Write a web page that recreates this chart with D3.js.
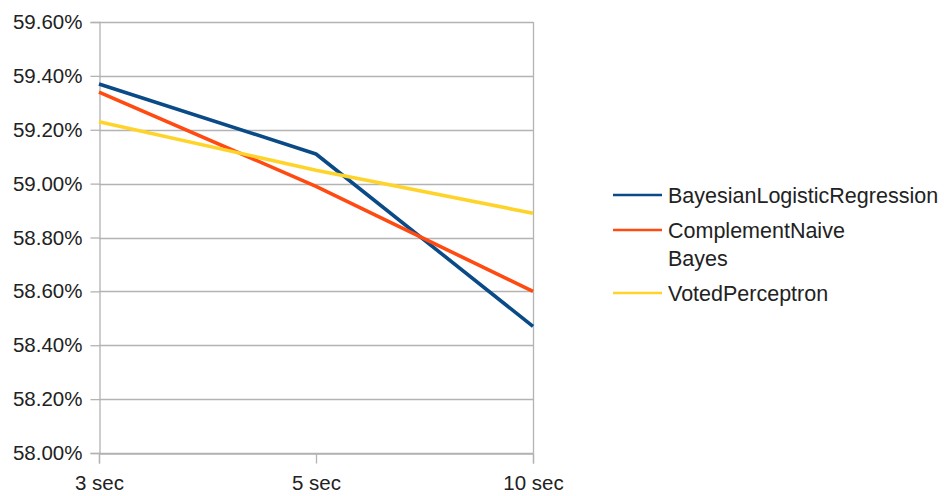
<!DOCTYPE html>
<html>
<head>
<meta charset="utf-8">
<script src="https://cdn.jsdelivr.net/npm/d3@7"></script>
<style>
  html, body { margin: 0; padding: 0; background: #fff; }
  svg { display: block; }
  text { font-family: "Liberation Sans", Arial, sans-serif; fill: #222; }
</style>
</head>
<body>
<svg id="chart" width="944" height="496"></svg>
<script>
// Categories along the x axis
const categories = ["3 sec", "5 sec", "10 sec"];

// Accuracy (%) per classifier
const bayesianLogisticRegression = [59.37, 59.11, 58.47];
const complementNaiveBayes = [59.34, 58.99, 58.60];
const votedPerceptron = [59.23, 59.05, 58.89];

// Y-axis tick values (%)
const yTicks = [58.0, 58.2, 58.4, 58.6, 58.8, 59.0, 59.2, 59.4, 59.6];

const seriesNames = ["BayesianLogisticRegression", "ComplementNaiveBayes", "VotedPerceptron"];
const legendLabels = [["BayesianLogisticRegression"], ["ComplementNaive", "Bayes"], ["VotedPerceptron"]];
const seriesColors = ["#0a4a86", "#ff4a12", "#ffd42a"];
const seriesValues = [bayesianLogisticRegression, complementNaiveBayes, votedPerceptron];

const svg = d3.select("#chart");
const plot = { left: 99, right: 533, top: 22, bottom: 453 };
const gridColor = "#b3b3b3";

const x = d3.scalePoint().domain(categories).range([plot.left, plot.right]).padding(0);
const y = d3.scaleLinear().domain([58.0, 59.6]).range([plot.bottom, plot.top]);

// Horizontal gridlines
svg.append("g")
  .selectAll("line")
  .data(yTicks)
  .join("line")
  .attr("x1", plot.left).attr("x2", plot.right)
  .attr("y1", d => Math.round(y(d)) + 0.5).attr("y2", d => Math.round(y(d)) + 0.5)
  .attr("stroke", gridColor).attr("stroke-width", 1.3);

// Right edge of the plot area
svg.append("line")
  .attr("x1", plot.right + 0.5).attr("x2", plot.right + 0.5)
  .attr("y1", plot.top).attr("y2", plot.bottom)
  .attr("stroke", gridColor).attr("stroke-width", 1.3);

// Y axis
const yAxis = d3.axisLeft(y)
  .tickValues(yTicks)
  .tickFormat(d => d3.format(".2f")(d) + "%")
  .tickSize(9).tickPadding(8);
const gy = svg.append("g").attr("transform", `translate(${plot.left + 0.5},0)`).call(yAxis);
gy.select(".domain").attr("stroke", gridColor).attr("stroke-width", 1.3);
gy.selectAll(".tick line").attr("stroke", gridColor).attr("stroke-width", 1.3);
gy.selectAll(".tick text")
  .attr("font-size", "20.5px")
  .attr("font-family", "'Liberation Sans', Arial, sans-serif")
  .attr("fill", "#222");

// X axis
const xAxis = d3.axisBottom(x).tickSize(10).tickPadding(12);
const gx = svg.append("g").attr("transform", `translate(0,${plot.bottom + 0.5})`).call(xAxis);
gx.select(".domain").attr("stroke", gridColor).attr("stroke-width", 1.3);
gx.selectAll(".tick line").attr("stroke", gridColor).attr("stroke-width", 1.3);
gx.selectAll(".tick text")
  .attr("font-size", "20.5px")
  .attr("font-family", "'Liberation Sans', Arial, sans-serif")
  .attr("fill", "#222");

// Series lines
const line = d3.line()
  .x((d, i) => x(categories[i]))
  .y(d => y(d));

svg.append("g")
  .selectAll("path")
  .data(seriesValues)
  .join("path")
  .attr("d", d => line(d))
  .attr("fill", "none")
  .attr("stroke", (d, i) => seriesColors[i])
  .attr("stroke-width", 3.6)
  .attr("stroke-linejoin", "round");

// Legend
const legendRows = [195, 230, 293];
const legend = svg.append("g");
seriesNames.forEach((name, i) => {
  const g = legend.append("g").attr("transform", `translate(0,${legendRows[i]})`);
  g.append("line")
    .attr("x1", 613).attr("x2", 662)
    .attr("y1", 0).attr("y2", 0)
    .attr("stroke", seriesColors[i]).attr("stroke-width", 2.5);
  legendLabels[i].forEach((txt, j) => {
    g.append("text")
      .attr("x", 668).attr("y", j * 28)
      .attr("dy", "0.35em")
      .attr("font-size", "21.5px")
      .text(txt);
  });
});
</script>
</body>
</html>
